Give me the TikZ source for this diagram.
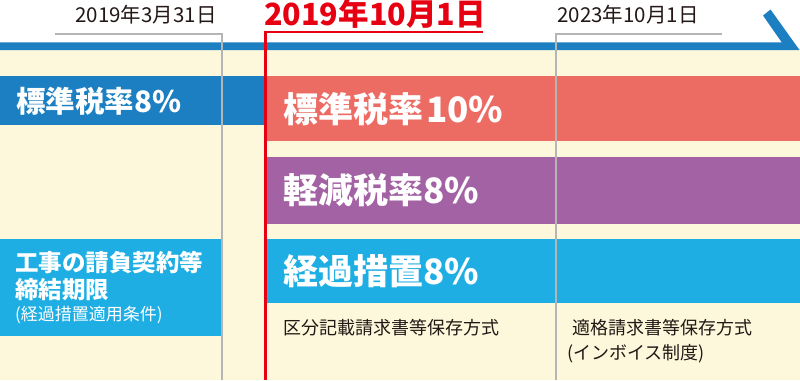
\documentclass[tikz,border=0pt]{standalone}
\usepackage{fontspec}
\setmainfont{Noto Sans CJK JP}
\definecolor{tlblue}{HTML}{1B7FC2}
\definecolor{cream}{HTML}{FDF8DB}
\definecolor{redline}{HTML}{E60012}
\definecolor{redbar}{HTML}{EC6C64}
\definecolor{purplebar}{HTML}{A262A4}
\definecolor{skyblue}{HTML}{1EAEE3}
\definecolor{grayline}{HTML}{B5B5B5}
\definecolor{txt}{HTML}{231815}
\begin{document}
\begin{tikzpicture}[x=1pt,y=-1pt,
  bartext/.style={anchor=west,text=white,font=\bfseries\fontsize{29.5}{32}\selectfont,inner sep=0pt},
  bigbartext/.style={anchor=west,text=white,font=\bfseries\fontsize{35}{38}\selectfont,inner sep=0pt},
  midbartext/.style={anchor=west,text=white,font=\bfseries\fontsize{35}{38}\selectfont,inner sep=0pt},
  datetext/.style={text=txt,font=\fontsize{20.5}{24}\selectfont,inner sep=0pt},
  notetext/.style={anchor=west,text=txt,font=\fontsize{18}{21}\selectfont,inner sep=0pt},
  gline/.style={draw=grayline,line width=1.3pt}]
\useasboundingbox (0,0) rectangle (800,380);
\fill[white] (0,0) rectangle (800,380);
% cream background
\fill[cream] (0,50) rectangle (800,380);
% timeline arrow
\fill[tlblue] (0,42.3) -- (781.7,42.3) -- (763,15.5) -- (770.5,9.5) -- (799.5,50) -- (0,50) -- cycle;
% bars
\fill[tlblue] (0,76) rectangle (265,125);
\fill[redbar] (267,76) rectangle (800,141);
\fill[purplebar] (267,157) rectangle (800,224);
\fill[skyblue] (267,239) rectangle (800,303);
\fill[skyblue] (0,239) rectangle (221.5,336);
% gray date lines
\coordinate (g1a) at (55,34);
\coordinate (g1b) at (222,34);
\coordinate (g1c) at (222,380);
\draw[gline] (g1a) -- (g1b) -- (g1c);
\coordinate (g2a) at (722,34);
\coordinate (g2b) at (556,34);
\coordinate (g2c) at (556,380);
\draw[gline] (g2a) -- (g2b) -- (g2c);
% red line
\coordinate (r1a) at (483,32);
\coordinate (r1b) at (265.5,32);
\coordinate (r1c) at (265.5,380);
\draw[redline,line width=2.6pt] (r1a) -- (r1b) -- (r1c);
% date labels
\node[datetext] (d1) at (146,15) {2019年3月31日};
\node[datetext] (d3) at (628,15) {2023年10月1日};
\node[anchor=west,text=redline,font=\bfseries\fontsize{30.5}{34}\selectfont,inner sep=0pt] (d2) at (264,14) {2019年10月1日};
% bar labels
\node[bartext] (b1) at (16,101) {標準税率8\%};
\node[bigbartext] (b2) at (283,109) {標準税率\hspace{3pt}10\%};
\node[midbartext] (b3) at (283,190) {軽減税率8\%};
\node[midbartext] (b4) at (283,271) {経過措置8\%};
\node[anchor=west,text=white,font=\bfseries\fontsize{23.5}{28}\selectfont,inner sep=0pt] (c1) at (15,263) {工事の請負契約等};
\node[anchor=west,text=white,font=\bfseries\fontsize{23.5}{28}\selectfont,inner sep=0pt] (c2) at (15,290) {締結期限};
\node[anchor=west,text=white,font=\fontsize{17}{20}\selectfont,inner sep=0pt] (c3) at (15,315) {(経過措置適用条件)};
% notes
\node[notetext] (n1) at (283,328) {区分記載請求書等保存方式};
\node[notetext] (n2) at (572,328) {適格請求書等保存方式};
\node[notetext] (n3) at (567,354) {(インボイス制度)};
\end{tikzpicture}
\end{document}
